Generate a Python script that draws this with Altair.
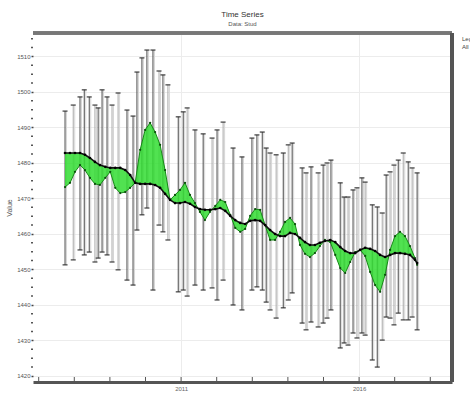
import altair as alt
import pandas as pd

# Range bars: date (decimal year), high and low of each observation window
bar_year = [2007.74, 2007.97, 2008.16, 2008.28, 2008.42, 2008.58, 2008.67, 2008.78,
            2008.92, 2009.06, 2009.23, 2009.48, 2009.65, 2009.76, 2009.90, 2010.04,
            2010.21, 2010.38, 2010.49, 2010.63, 2010.92, 2011.06, 2011.17, 2011.39,
            2011.62, 2011.87, 2012.01, 2012.18, 2012.46, 2012.71, 2012.99, 2013.13,
            2013.28, 2013.39, 2013.50, 2013.67, 2013.87, 2014.01, 2014.12, 2014.40,
            2014.51, 2014.65, 2014.85, 2014.99, 2015.10, 2015.21, 2015.47, 2015.58,
            2015.69, 2015.83, 2015.94, 2016.08, 2016.17, 2016.37, 2016.51, 2016.65,
            2016.76, 2016.87, 2016.98, 2017.10, 2017.24, 2017.38, 2017.49, 2017.63]
bar_high = [1494.6, 1496.3, 1498.6, 1500.6, 1498.6, 1496.3, 1495.5, 1500.6,
            1498.6, 1496.3, 1499.7, 1494.9, 1493.2, 1505.6, 1509.6, 1511.8,
            1511.8, 1505.9, 1504.8, 1502.0, 1493.0, 1494.4, 1495.5, 1489.3,
            1488.2, 1487.0, 1489.3, 1491.5, 1484.2, 1481.7, 1487.0, 1487.9,
            1488.7, 1484.2, 1482.8, 1482.3, 1482.8, 1485.1, 1485.6, 1478.6,
            1477.2, 1478.9, 1477.2, 1479.4, 1480.0, 1480.8, 1474.4, 1470.4,
            1470.4, 1472.4, 1473.0, 1475.8, 1474.6, 1468.2, 1467.6, 1465.9,
            1476.6, 1477.5, 1479.4, 1480.8, 1482.8, 1480.3, 1478.6, 1477.2]
bar_low = [1451.3, 1452.7, 1455.5, 1454.1, 1454.9, 1452.1, 1453.2, 1454.9,
           1454.1, 1452.1, 1449.9, 1447.0, 1445.6, 1461.1, 1465.4, 1467.3,
           1444.2, 1462.5, 1460.6, 1458.3, 1443.7, 1444.2, 1442.5, 1445.6,
           1444.2, 1444.8, 1441.4, 1447.0, 1440.0, 1438.6, 1444.2, 1445.1,
           1444.2, 1440.8, 1438.6, 1436.3, 1439.2, 1441.4, 1443.4, 1434.9,
           1433.0, 1435.2, 1433.8, 1434.9, 1436.3, 1438.6, 1427.9, 1429.3,
           1428.7, 1432.1, 1430.7, 1432.1, 1431.5, 1424.5, 1422.5, 1430.1,
           1436.6, 1436.3, 1434.4, 1437.7, 1435.8, 1435.8, 1436.6, 1433.0]
bar_series = ["A", "B", "A", "A", "A", "B", "A", "A", "A", "B", "B", "A", "A", "A", "A", "A",
              "A", "B", "A", "B", "A", "A", "B", "A", "A", "B", "A", "B", "A", "A", "A", "A",
              "A", "A", "B", "B", "A", "B", "A", "A", "B", "A", "B", "A", "B", "A", "A", "A",
              "B", "A", "B", "A", "B", "A", "A", "B", "A", "B", "B", "A", "B", "A", "B", "A"]

# Smoothed trend and observed series
line_year = [2007.74, 2007.88, 2008.02, 2008.16, 2008.30, 2008.44, 2008.58, 2008.72,
             2008.87, 2009.01, 2009.15, 2009.29, 2009.43, 2009.57, 2009.71, 2009.85,
             2009.99, 2010.13, 2010.27, 2010.41, 2010.55, 2010.69, 2010.83, 2010.97,
             2011.11, 2011.25, 2011.39, 2011.53, 2011.67, 2011.81, 2011.96, 2012.10,
             2012.24, 2012.38, 2012.52, 2012.66, 2012.80, 2012.94, 2013.08, 2013.22,
             2013.36, 2013.50, 2013.64, 2013.78, 2013.92, 2014.06, 2014.20, 2014.34,
             2014.48, 2014.62, 2014.76, 2014.90, 2015.04, 2015.19, 2015.33, 2015.47,
             2015.61, 2015.75, 2015.89, 2016.03, 2016.17, 2016.31, 2016.45, 2016.59,
             2016.73, 2016.87, 2017.01, 2017.15, 2017.29, 2017.43, 2017.57, 2017.63]
trend = [1482.8, 1482.8, 1482.8, 1482.8, 1482.3, 1481.4, 1480.3, 1479.4,
         1478.9, 1478.6, 1478.6, 1478.6, 1478.0, 1476.6, 1474.4, 1474.1,
         1474.1, 1474.1, 1473.8, 1473.0, 1471.3, 1469.6, 1468.7, 1468.7,
         1469.0, 1468.5, 1467.6, 1467.0, 1466.8, 1466.8, 1467.0, 1467.3,
         1466.5, 1465.1, 1463.9, 1463.1, 1462.8, 1463.7, 1463.9, 1463.7,
         1462.5, 1461.1, 1460.0, 1459.4, 1459.4, 1460.3, 1460.0, 1458.9,
         1457.7, 1456.9, 1456.9, 1457.5, 1458.0, 1458.3, 1457.7, 1456.3,
         1455.2, 1454.6, 1454.6, 1455.5, 1456.1, 1455.8, 1455.2, 1454.1,
         1453.5, 1454.1, 1454.6, 1454.6, 1454.4, 1454.1, 1452.7, 1451.8]
actual = [1473.2, 1474.4, 1477.5, 1479.4, 1478.0, 1475.8, 1474.1, 1473.8,
          1475.8, 1477.5, 1473.0, 1471.5, 1471.8, 1473.0, 1474.4, 1483.7,
          1489.3, 1491.3, 1488.7, 1485.1, 1478.0, 1469.6, 1471.0, 1472.4,
          1474.4, 1471.0, 1468.7, 1466.2, 1463.9, 1466.2, 1467.9, 1469.6,
          1469.0, 1465.4, 1461.7, 1460.6, 1461.4, 1465.1, 1467.0, 1466.8,
          1462.5, 1458.3, 1458.3, 1460.6, 1463.4, 1464.5, 1462.8, 1456.9,
          1454.4, 1453.5, 1454.6, 1456.6, 1458.3, 1457.7, 1454.1, 1450.4,
          1449.0, 1452.1, 1454.9, 1455.5, 1453.8, 1449.3, 1445.6, 1443.7,
          1448.5, 1455.5, 1459.4, 1460.6, 1459.4, 1456.6, 1453.2, 1451.3]

year_ticks = [2007, 2008, 2009, 2010, 2011, 2012, 2013, 2014, 2015, 2016, 2017, 2018]
labelled_years = [2011, 2016]
value_labels = [1420, 1430, 1440, 1450, 1460, 1470, 1480, 1490, 1500, 1510]
minor_values = [1422.5, 1425, 1427.5, 1432.5, 1435, 1437.5, 1442.5, 1445, 1447.5,
                1452.5, 1455, 1457.5, 1462.5, 1465, 1467.5, 1472.5, 1475, 1477.5,
                1482.5, 1485, 1487.5, 1492.5, 1495, 1497.5, 1502.5, 1505, 1507.5,
                1512.5, 1515]
legend_labels = ["Legend", "All"]

bars = pd.DataFrame({"year": bar_year, "high": bar_high, "low": bar_low,
                     "series": bar_series})
lines = pd.DataFrame({"year": line_year, "trend": trend, "actual": actual})
ticks = pd.DataFrame({"year": year_ticks})
minor = pd.DataFrame({"v": minor_values})

W, H = 419, 349
FONT = "Liberation Sans"

xs = alt.Scale(domain=[2006.84, 2018.61], nice=False, zero=False)
ys = alt.Scale(domain=[1418.3, 1516.6], nice=False, zero=False)

x_axis = alt.Axis(values=labelled_years, format="d", ticks=False,
                  labelFontSize=6, labelColor="#666", labelPadding=3,
                  domainColor="#555", domainWidth=3,
                  grid=True, gridColor="#ececec", gridWidth=1)
y_axis = alt.Axis(values=value_labels, format="d", tickSize=2,
                  tickColor="#444", tickWidth=1.5,
                  labelFontSize=6, labelColor="#555", labelPadding=1,
                  domain=False, titleFontSize=7, titleColor="#555",
                  titleFontWeight="normal", titlePadding=4,
                  grid=True, gridColor="#ececec", gridWidth=1)


def xq():
    return alt.X("year:Q", scale=xs, axis=x_axis, title=None)


def yq(field):
    return alt.Y(f"{field}:Q", scale=ys, axis=y_axis, title="Value")


shadow = alt.Chart(bars).mark_rule(xOffset=1.5, color="#d6d6d6", strokeWidth=1).encode(
    x=xq(), y=yq("high"), y2="low:Q")

rules = alt.Chart(bars).mark_rule(strokeWidth=1).encode(
    x=xq(), y=yq("high"), y2="low:Q",
    color=alt.Color("series:N", scale=alt.Scale(domain=["A", "B"],
                                                range=["#4a4a4a", "#a8a8a8"]),
                    legend=None))

cap_hi = alt.Chart(bars).mark_tick(orient="horizontal", size=5, thickness=1.5,
                                   color="#222").encode(x=xq(), y=yq("high"))
cap_lo = alt.Chart(bars).mark_tick(orient="horizontal", size=5, thickness=1.5,
                                   color="#222").encode(x=xq(), y=yq("low"))

band = alt.Chart(lines).mark_area(color="#33dd33", opacity=0.85).encode(
    x=xq(), y=yq("actual"), y2="trend:Q")

actual_line = alt.Chart(lines).mark_line(color="#178a17", strokeWidth=1).encode(
    x=xq(), y=yq("actual"))

actual_dots = alt.Chart(lines).mark_point(filled=True, size=5, color="#0b4d0b",
                                          opacity=1).encode(x=xq(), y=yq("actual"))

trend_line = alt.Chart(lines).mark_line(color="#111", strokeWidth=1.6).encode(
    x=xq(), y=yq("trend"))

trend_dots = alt.Chart(lines).mark_point(filled=True, size=7, color="#000",
                                         opacity=1).encode(x=xq(), y=yq("trend"))

# Inward year ticks along the bottom edge
year_marks = alt.Chart(ticks).mark_rule(color="#555", strokeWidth=1).encode(
    x=xq(), y=alt.value(H - 5), y2=alt.value(H))

# Minor ticks on the value axis
minor_marks = alt.Chart(minor).mark_rule(color="#555", strokeWidth=1.5).encode(
    y=alt.Y("v:Q", scale=ys, axis=y_axis, title="Value"),
    x=alt.value(-2), x2=alt.value(0))

# Frame on the top and right edges
frame_top = alt.Chart(ticks).mark_rule(color="#777", strokeWidth=2.5).encode(
    x=alt.value(0), x2=alt.value(W), y=alt.value(0))
frame_right = alt.Chart(ticks).mark_rule(color="#555", strokeWidth=3).encode(
    x=alt.value(W), y=alt.value(0), y2=alt.value(H))

legend_top = alt.Chart(pd.DataFrame({"label": [legend_labels[0]]})).mark_text(
    align="left", baseline="top", fontSize=6, color="#444", font=FONT).encode(
    x=alt.value(W + 10), y=alt.value(3), text="label:N")
legend_bottom = alt.Chart(pd.DataFrame({"label": [legend_labels[1]]})).mark_text(
    align="left", baseline="top", fontSize=6, color="#444", font=FONT).encode(
    x=alt.value(W + 10), y=alt.value(11), text="label:N")

chart = alt.layer(
    shadow, rules, cap_hi, cap_lo, band, actual_line, actual_dots,
    trend_line, trend_dots, year_marks, minor_marks, frame_top, frame_right,
    legend_top, legend_bottom,
).properties(
    width=W, height=H,
    title=alt.TitleParams("Time Series", subtitle="Data: Stud", fontSize=8,
                          subtitleFontSize=6, color="#333", subtitleColor="#555",
                          fontWeight="normal", anchor="middle", offset=5,
                          subtitlePadding=2, font=FONT, subtitleFont=FONT),
    autosize=alt.AutoSizeParams(type="none"),
    padding={"left": 33, "top": 33, "right": 18, "bottom": 12},
).configure_view(stroke=None).configure_axis(labelFont=FONT, titleFont=FONT)

chart.save("out.html", embed_options={"renderer": "svg", "actions": False})
